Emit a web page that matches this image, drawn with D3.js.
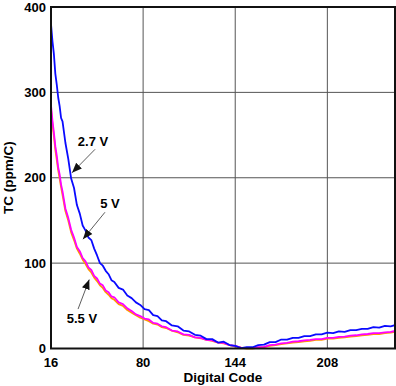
<!DOCTYPE html>
<html lang="en">
<head>
  <meta charset="UTF-8">
  <title>TC vs Digital Code</title>
  <style>
    body { margin: 0; background: #fff; }
    text { font-family: "Liberation Sans", Arial, sans-serif; font-weight: bold; font-size: 13px; fill: #000; }
    .title { font-size: 13.5px; }
  </style>
</head>
<body>
  <div id="chart"></div>
  <script src="https://d3js.org/d3.v7.min.js"></script>
  <script>
    // data
    const codes = [16,17,18,19,20,21,22,23,24,26,28,30,32,34,36,38,40,42,44,46,48,50,52,54,56,58,60,
      63,66,69,72,75,78,81,84,87,90,93,96,100,104,108,112,116,120,124,128,132,136,140,144,148,152,156,
      160,164,168,172,176,180,184,188,192,196,200,204,208,212,216,220,224,228,232,236,240,244,248,252,255];

    const tc27 = [380,360,345,322,309,294,284,270,266,241,222,199,188,168,158,144,138,130,127,117,109,100,97,91,87,80,78,
      71,69,62,59,54,51,46,45,39,38,33,32,27,26,21,20,16,15,11,11,7,8,4,3,0.5,1.5,1.5,
      4,4.5,7.5,7.5,10.5,10.5,12.5,12.5,14.5,14.5,16.5,16.5,18.5,18,20,19.5,21.5,21.5,23,23,25,24.5,26.5,26,27.5];

    const tc5 = [285,267,253,237,226,212,204,192,184,164,153,139,130,119,114,106,102,95,92,85,82,76,74,68,66,61,60,
      54,52,47,44,40,38,35,34,30,29,26,25,21,20,16.5,16,13,12.5,10,9.5,7,6.5,4,3,1,0.5,0.5,
      1.5,2,4,4.5,6,6.5,8,8.5,9.5,10,11,11,12.5,12.5,13.5,14,15,15.5,16.5,17,18,18,19,19.5,20.5];

    const tc55 = [280,263,249,233,221,209,199,189,180,161,150,136,127,117,111,104,99,93,89,83,79,74,71,66,63,59,57,
      52,50,45,42,39,36,34,32,29,28,25,24,21,19,16,15,13,12,10,9,7,6,4,2.5,1,0,0,
      1,1.5,3,4,5,6,7,7.5,8.5,9,10,10,11.5,11.5,12.5,13,14,14.5,15.5,16,17,17,18,18.5,19.5];

    const xTicks = [16, 80, 144, 208];
    const yTicks = [0, 100, 200, 300, 400];

    // labels with arrows: [text, label x, label y, arrow tail x, tail y, tip x, tip y] in data units
    const notes = [
      ["2.7 V", 45.2, 237.4, 46.6, 233.3, 30.6, 205.8],
      ["5 V", 57, 164.3, 53.5, 159.6, 38.2, 128],
      ["5.5 V", 37.5, 29.8, 34.8, 46.2, 42.6, 80.9]
    ];

    const W = 396, H = 386;
    const mLeft = 51, mTop = 7, mRight = 395, mBottom = 348.5;

    const svg = d3.select("#chart").append("svg")
      .attr("width", W).attr("height", H);

    const x = d3.scaleLinear().domain([16, 255]).range([mLeft, mRight]);
    const y = d3.scaleLinear().domain([0, 400]).range([mBottom, mTop]);

    // grid
    svg.append("g").selectAll("line")
      .data(xTicks.slice(1)).enter().append("line")
      .attr("x1", d => x(d)).attr("x2", d => x(d))
      .attr("y1", mTop).attr("y2", mBottom)
      .attr("stroke", "#555").attr("stroke-width", 1);
    svg.append("g").selectAll("line")
      .data(yTicks.slice(1, -1)).enter().append("line")
      .attr("x1", mLeft).attr("x2", mRight)
      .attr("y1", d => y(d)).attr("y2", d => y(d))
      .attr("stroke", "#555").attr("stroke-width", 1);

    // curves
    const line = vals => d3.line()
      .x((d, i) => x(codes[i]))
      .y(d => y(d))(vals);

    [[tc55, "#ff9900"], [tc5, "#ff00ff"], [tc27, "#0a0aff"]].forEach(([vals, col]) => {
      svg.append("path")
        .attr("d", line(vals))
        .attr("fill", "none")
        .attr("stroke", col)
        .attr("stroke-width", 1.8)
        .attr("stroke-linejoin", "round");
    });

    // frame
    svg.append("rect")
      .attr("x", mLeft).attr("y", mTop)
      .attr("width", mRight - mLeft).attr("height", mBottom - mTop)
      .attr("fill", "none").attr("stroke", "#111").attr("stroke-width", 2);

    // tick labels
    svg.append("g").selectAll("text")
      .data(xTicks).enter().append("text")
      .attr("x", d => x(d)).attr("y", 367)
      .attr("text-anchor", "middle")
      .text(d => d);
    svg.append("g").selectAll("text")
      .data(yTicks).enter().append("text")
      .attr("x", 46).attr("y", d => y(d))
      .attr("dy", "0.35em")
      .attr("text-anchor", "end")
      .text(d => d);

    // axis titles
    svg.append("text")
      .attr("class", "title")
      .attr("x", (mLeft + mRight) / 2).attr("y", 382)
      .attr("text-anchor", "middle")
      .text("Digital Code");
    svg.append("text")
      .attr("class", "title")
      .attr("transform", `translate(13,${(mTop + mBottom) / 2}) rotate(-90)`)
      .attr("text-anchor", "middle")
      .text("TC (ppm/C)");

    // arrows
    svg.append("defs").append("marker")
      .attr("id", "head")
      .attr("viewBox", "0 0 10 10")
      .attr("refX", 10).attr("refY", 5)
      .attr("markerWidth", 10).attr("markerHeight", 10)
      .attr("markerUnits", "userSpaceOnUse")
      .attr("orient", "auto")
      .append("path").attr("d", "M0,1 L10,5 L0,9 Z").attr("fill", "#111");

    const ng = svg.append("g");
    notes.forEach(n => {
      ng.append("line")
        .attr("x1", x(n[3])).attr("y1", y(n[4]))
        .attr("x2", x(n[5])).attr("y2", y(n[6]))
        .attr("stroke", "#333").attr("stroke-width", 0.8)
        .attr("marker-end", "url(#head)");
      ng.append("text")
        .attr("x", x(n[1])).attr("y", y(n[2]))
        .attr("text-anchor", "middle")
        .text(n[0]);
    });
  </script>
</body>
</html>
